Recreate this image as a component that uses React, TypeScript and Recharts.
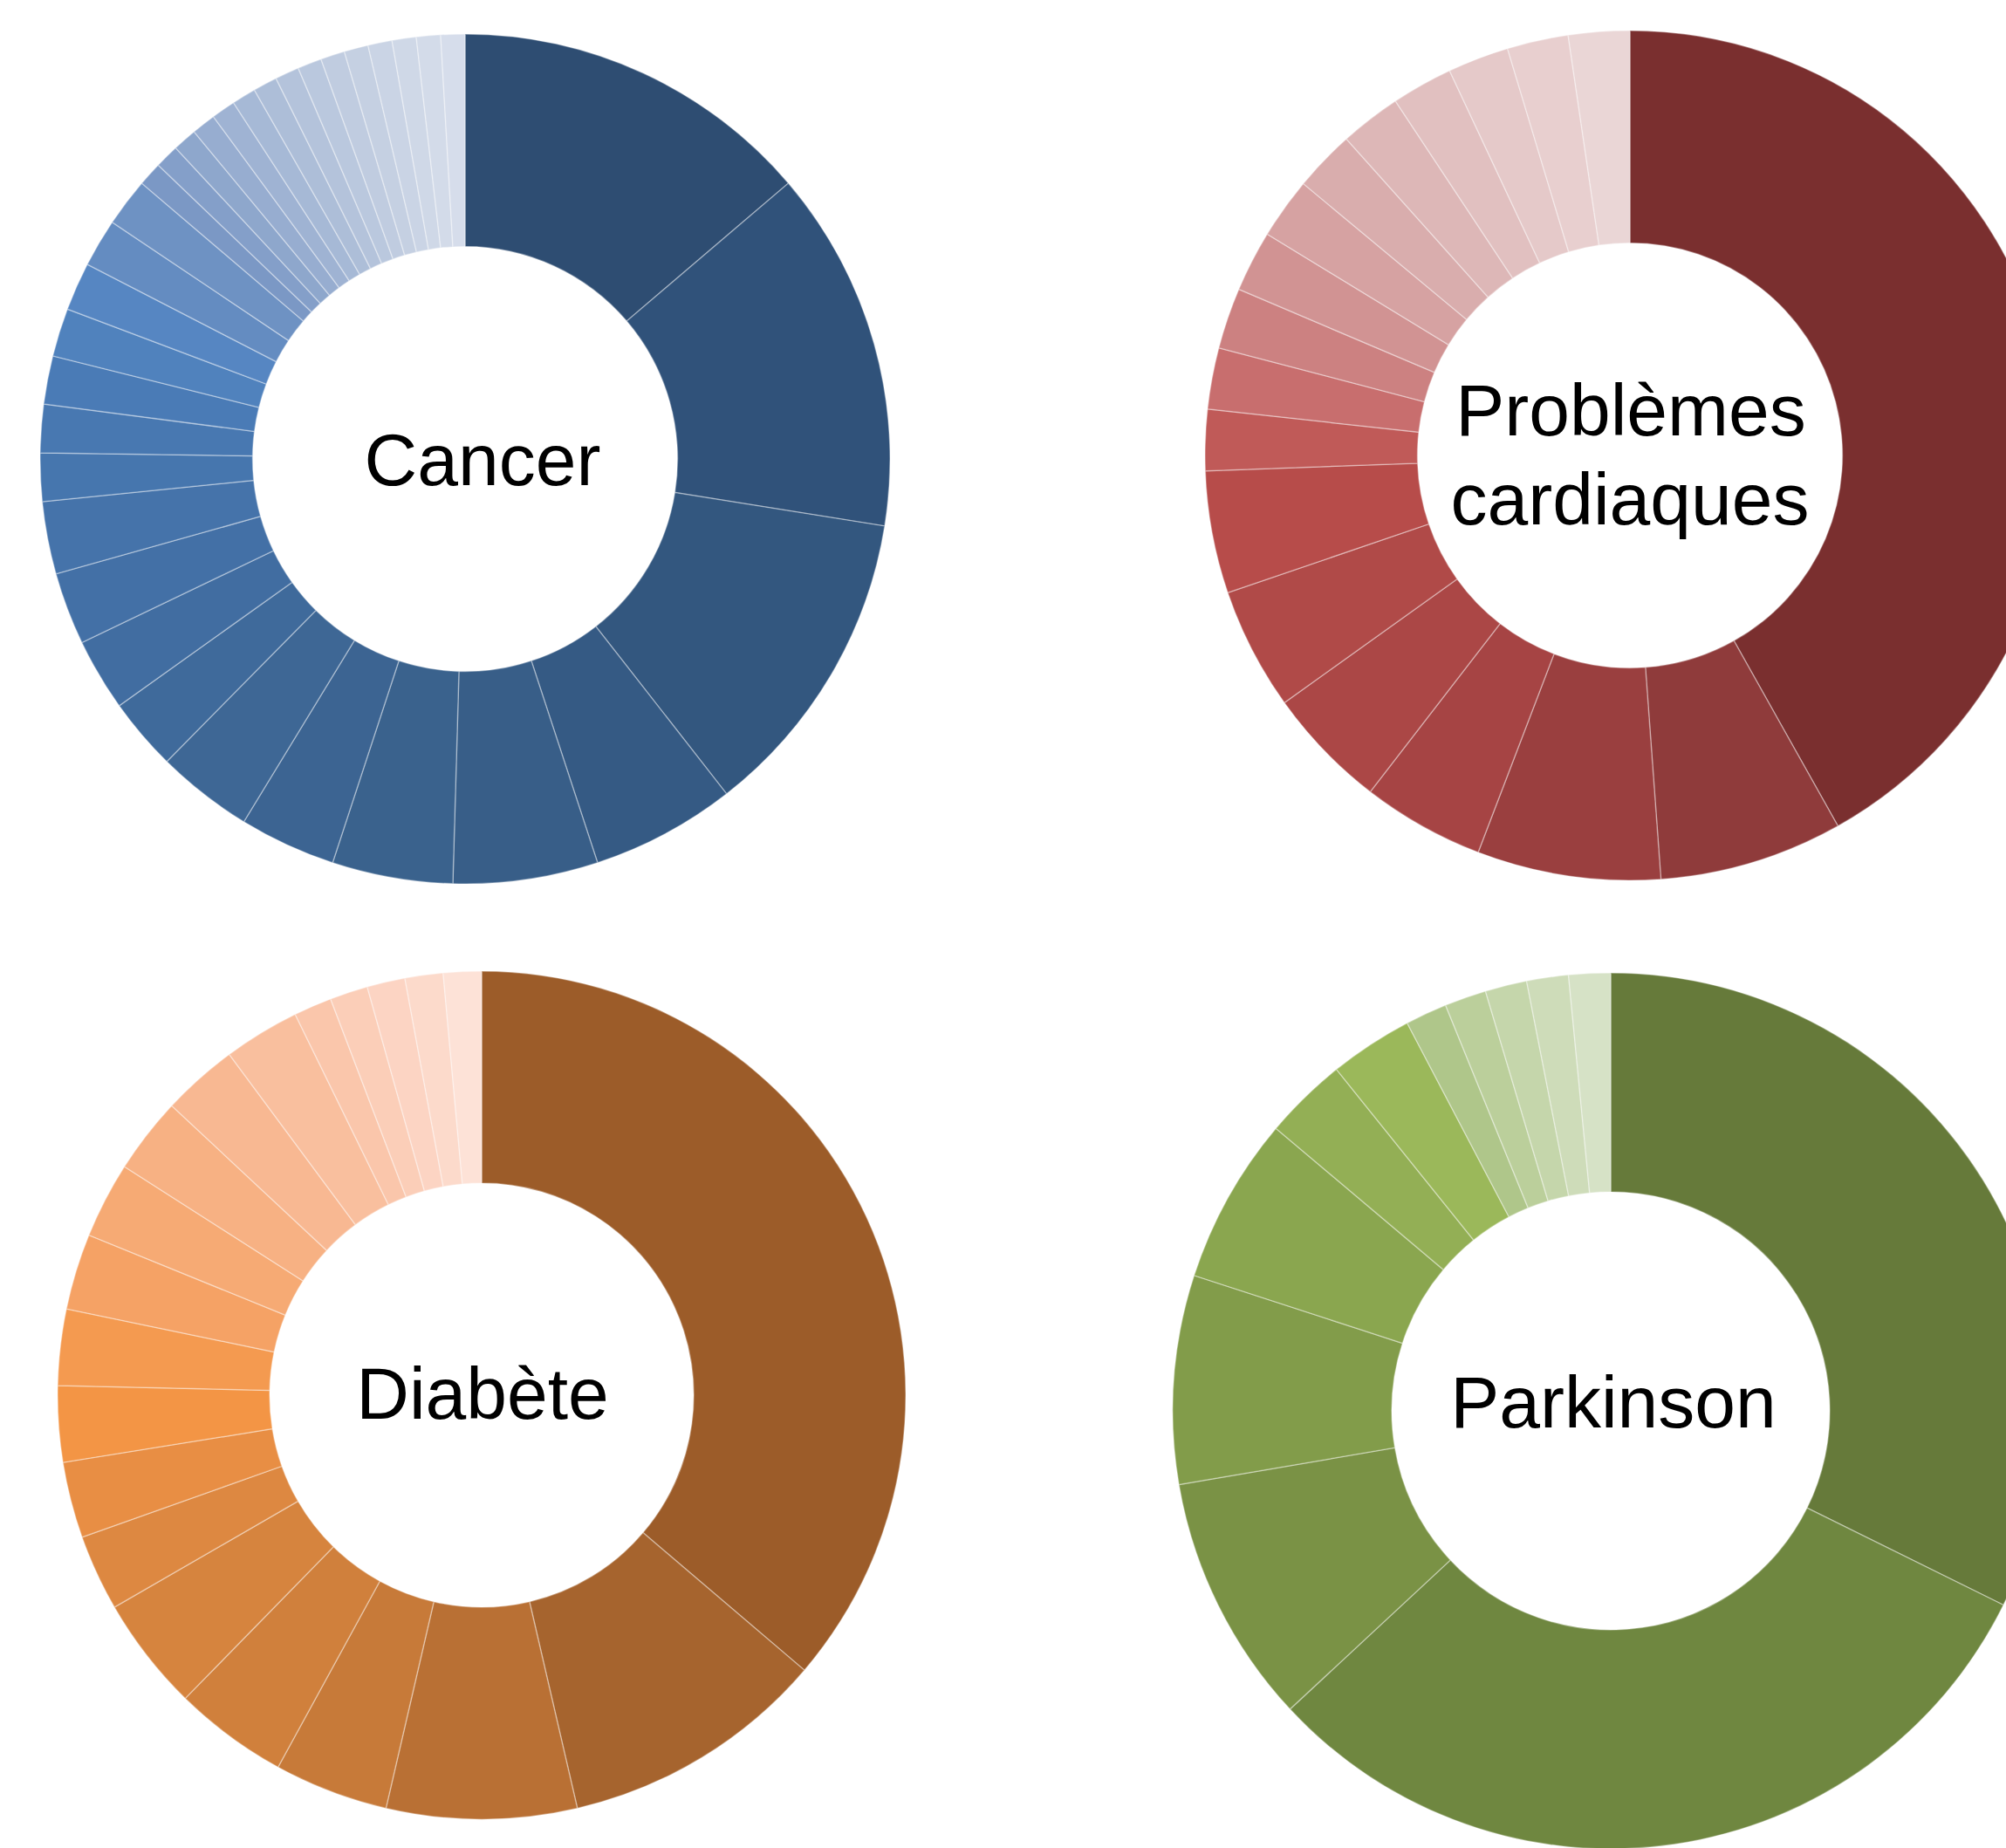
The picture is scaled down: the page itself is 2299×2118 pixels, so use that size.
import * as React from "react";
import { PieChart, Pie, Cell } from "recharts";

// slice sizes, read clockwise from 12 o'clock
const cancerValues = [15, 15, 13, 6, 6, 5, 4, 4, 3, 3, 3, 3, 2, 2, 2, 2, 2, 2, 2, 1, 1, 1, 1, 1, 1, 1, 1, 1, 1, 1, 1, 1, 1, 1];
const cardiaqueValues = [18, 3, 3, 2, 2, 2, 2, 1, 1, 1, 1, 1, 1, 1, 1, 1, 1, 1];
const diabeteValues = [25, 7, 5, 3, 3, 3, 2, 2, 2, 2, 2, 2, 2, 2, 2, 1, 1, 1, 1, 1];
const parkinsonValues = [21, 20, 6, 5, 4, 2, 2, 1, 1, 1, 1, 1];

const cancerColors = [
  "#2e4d72", "#30527a", "#33577f", "#355a84", "#385e88", "#3a628d", "#3c6492", "#3e6795",
  "#3f6a9b", "#416da1", "#4370a6", "#4573aa", "#4676ae", "#4878b1", "#4a7bb6", "#5082bd",
  "#5686c2", "#648cc1", "#6e92c3", "#7b98c5", "#849fc9", "#8ea7cc", "#97add0", "#9fb3d3",
  "#a6b9d6", "#adbed8", "#b4c3db", "#bac8de", "#c0cce0", "#c5d0e2", "#cad4e5", "#cfd8e7",
  "#d3dbe9", "#d6ddeb",
];
const cardiaqueColors = [
  "#7a2f2f", "#8f3b3b", "#9a3f3f", "#a64444", "#ab4746", "#b04a48", "#b74c4a", "#c05a58",
  "#c86e6e", "#cc8181", "#d19393", "#d6a2a2", "#d9adad", "#ddb7b7", "#e1c0c0", "#e5c9c9",
  "#e8cfcf", "#ead6d6",
];
const diabeteColors = [
  "#9c5c29", "#a6642e", "#b97034", "#c77a39", "#d0803c", "#d6843e", "#dd8841", "#e88e44",
  "#f39545", "#f49a50", "#f5a265", "#f6aa74", "#f7b183", "#f8b892", "#f9bf9e", "#fac6ab",
  "#fbceb8", "#fcd4c3", "#fcdacb", "#fde2d7",
];
const parkinsonColors = [
  "#667a3a", "#6f8740", "#7a9245", "#829c4a", "#8aa64f", "#93af55", "#9bb85a", "#afc68a",
  "#bbcf9b", "#c5d6ab", "#cedcb9", "#d6e2c6",
];

const labels = ["Cancer", "Problèmes cardiaques", "Diabète", "Parkinson"];

const toData = (values: number[], prefix: string) =>
  values.map((v, i) => ({ name: `${prefix} ${i + 1}`, value: v }));

const donuts = [
  { key: "cancer", data: toData(cancerValues, labels[0]), colors: cancerColors, cx: 533, cy: 526, r: 487 },
  { key: "cardiaque", data: toData(cardiaqueValues, labels[1]), colors: cardiaqueColors, cx: 1868, cy: 522, r: 487 },
  { key: "diabete", data: toData(diabeteValues, labels[2]), colors: diabeteColors, cx: 552, cy: 1599, r: 486 },
  { key: "parkinson", data: toData(parkinsonValues, labels[3]), colors: parkinsonColors, cx: 1846, cy: 1617, r: 502 },
];

const font = "'Liberation Sans', Arial, sans-serif";

export default function App() {
  return (
    <div style={{ position: "absolute", left: 0, top: 0, width: 2299, height: 2118, overflow: "hidden", background: "#fff" }}>
      <PieChart width={2299} height={2118} margin={{ top: 0, right: 0, bottom: 0, left: 0 }}>
        {donuts.map((d) => (
          <Pie
            key={d.key}
            data={d.data}
            dataKey="value"
            cx={d.cx}
            cy={d.cy}
            innerRadius={d.r * 0.5}
            outerRadius={d.r}
            startAngle={90}
            endAngle={-270}
            stroke="#ffffff"
            strokeOpacity={0.35}
            strokeWidth={1.5}
            isAnimationActive={false}
          >
            {d.data.map((_, i) => (
              <Cell key={`${d.key}-${i}`} fill={d.colors[i]} />
            ))}
          </Pie>
        ))}
      </PieChart>
      <svg width={2299} height={2118} style={{ position: "absolute", left: 0, top: 0, pointerEvents: "none" }}>
        <g fontFamily={font} fontSize={84} fill="#000" textAnchor="middle">
          <text x={553} y={556}>Cancer</text>
          <text x={1869} y={499}>Problèmes</text>
          <text x={1868} y={601}>cardiaques</text>
          <text x={553} y={1626}>Diabète</text>
          <text x={1849} y={1636}>Parkinson</text>
        </g>
      </svg>
    </div>
  );
}
